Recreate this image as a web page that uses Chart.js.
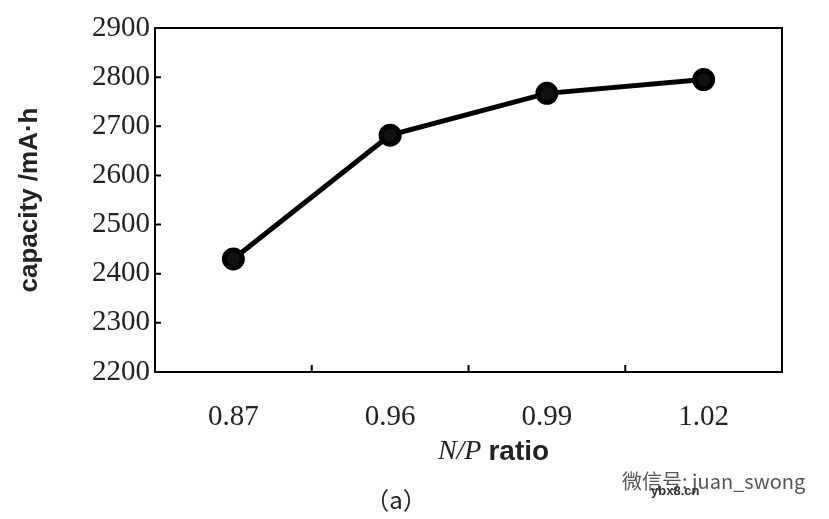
<!DOCTYPE html>
<html>
<head>
<meta charset="utf-8">
<script src="https://cdn.jsdelivr.net/npm/chart.js@4/dist/chart.umd.min.js"></script>
<style>
  html, body { margin: 0; padding: 0; background: #fff; }
</style>
</head>
<body>
<canvas id="chart" width="829" height="519"></canvas>
<script>
// N/P ratio vs capacity
const ratios = ['0.87', '0.96', '0.99', '1.02'];
const capacity = [2430, 2682, 2767, 2795];
const yMin = 2200, yMax = 2900, yStep = 100;

// frame, inner ticks and extra texts
const decorations = {
  id: 'decorations',
  afterDraw(chart) {
    const { ctx, chartArea: a, scales } = chart;
    ctx.save();
    ctx.strokeStyle = '#000';
    ctx.lineWidth = 2;
    ctx.strokeRect(a.left, a.top, a.right - a.left, a.bottom - a.top);

    // y ticks pointing inward
    ctx.beginPath();
    for (let v = yMin; v <= yMax; v += yStep) {
      const y = scales.y.getPixelForValue(v);
      ctx.moveTo(a.left, y); ctx.lineTo(a.left + 6, y);
    }
    // x ticks between categories, pointing up
    for (let i = 1; i < ratios.length; i++) {
      const x = (scales.x.getPixelForValue(i - 1) + scales.x.getPixelForValue(i)) / 2;
      ctx.moveTo(x, a.bottom); ctx.lineTo(x, a.bottom - 7);
    }
    ctx.stroke();

    // x title: italic N/P + bold ratio
    ctx.fillStyle = '#222';
    ctx.textBaseline = 'middle';
    const p1 = 'N/P ', p2 = 'ratio';
    ctx.font = 'italic 28px "Liberation Serif"';
    const w1 = ctx.measureText(p1).width;
    ctx.font = 'bold 28px "Liberation Sans"';
    const w2 = ctx.measureText(p2).width;
    const cx = (a.left + a.right) / 2 + 25;
    let x0 = cx - (w1 + w2) / 2;
    ctx.font = 'italic 28px "Liberation Serif"';
    ctx.fillText(p1, x0, 452);
    ctx.font = 'bold 28px "Liberation Sans"';
    ctx.fillText(p2, x0 + w1, 452);

    ctx.font = '24px "Noto Sans CJK SC"';
    ctx.textAlign = 'center';
    ctx.fillText('（a）', 396, 500);

    ctx.fillStyle = '#555';
    ctx.font = '20px "Noto Sans CJK SC"';
    ctx.textAlign = 'left';
    ctx.fillText('微信号: juan_swong', 622, 481);
    ctx.fillStyle = '#333';
    ctx.font = 'bold 13px "Liberation Sans"';
    ctx.fillText('ybx8.cn', 651, 491);
    ctx.restore();
  }
};

new Chart(document.getElementById('chart'), {
  type: 'line',
  data: {
    labels: ratios,
    datasets: [{
      data: capacity,
      borderColor: '#000',
      backgroundColor: '#111',
      borderWidth: 5,
      pointRadius: 9,
      pointBackgroundColor: '#111',
      pointBorderColor: '#000',
      tension: 0
    }]
  },
  options: {
    responsive: false,
    animation: false,
    layout: { padding: { left: 14, top: 28, right: 47, bottom: 0 } },
    plugins: { legend: { display: false }, tooltip: { enabled: false } },
    scales: {
      x: {
        offset: true,
        grid: { display: false, drawTicks: false },
        border: { display: false },
        ticks: { color: '#222', padding: 28, font: { family: 'Liberation Serif', size: 29 } },
        afterFit(s) { s.height = 147; }
      },
      y: {
        min: yMin,
        max: yMax,
        grid: { display: false, drawTicks: false },
        border: { display: false },
        ticks: {
          stepSize: yStep, color: '#222', padding: 5,
          font: { family: 'Liberation Serif', size: 29 },
          callback: v => String(v)
        },
        title: {
          display: true,
          text: 'capacity /mA·h',
          color: '#222',
          padding: { top: 0, bottom: 4 },
          font: { family: 'Liberation Sans', size: 26, weight: 'bold' }
        },
        afterFit(s) { s.width = 141; }
      }
    }
  },
  plugins: [decorations]
});
</script>
</body>
</html>
